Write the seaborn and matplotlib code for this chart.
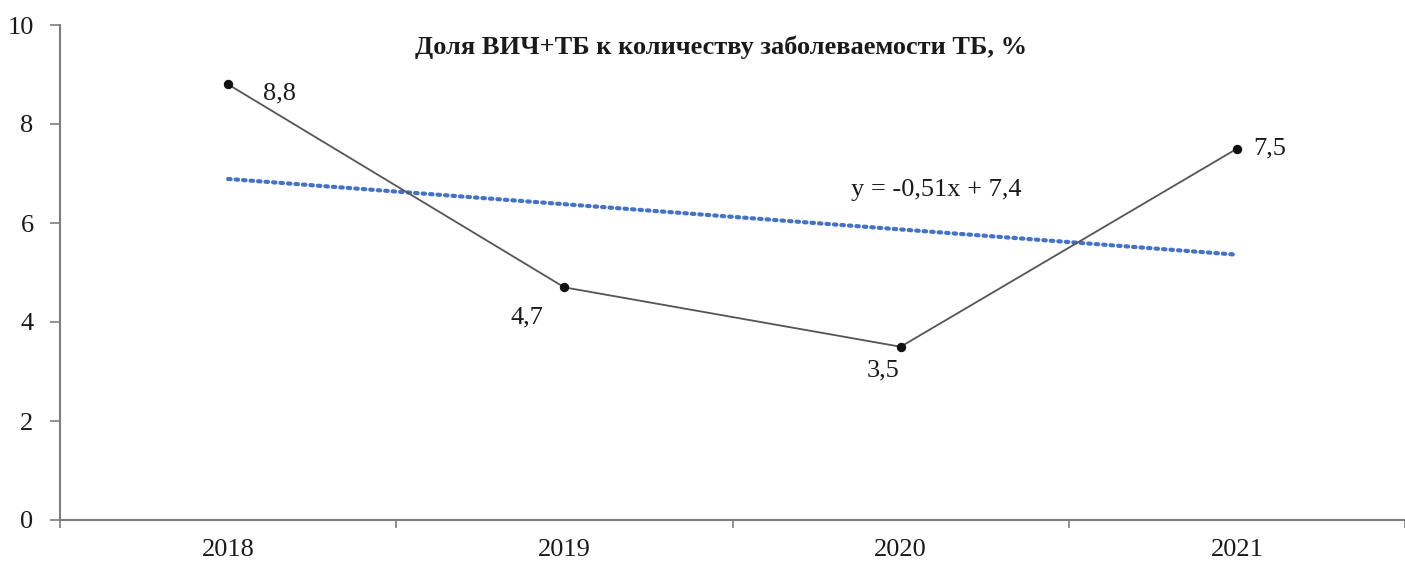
import numpy as np
import matplotlib
matplotlib.use('Agg')
import matplotlib.pyplot as plt
import seaborn as sns

# Data
years = ['2018', '2019', '2020', '2021']
share = [8.8, 4.7, 3.5, 7.5]
title = 'Доля ВИЧ+ТБ к количеству заболеваемости ТБ, %'

sns.set_style('white')
plt.rcParams['font.family'] = ['Liberation Serif', 'DejaVu Serif']

fig = plt.figure(figsize=(14.05, 5.63), dpi=100)
ax = fig.add_axes([60 / 1405, 43 / 563, 1345 / 1405, 495 / 563])

x = np.arange(len(years))

# Linear trend (Excel-like trendline)
sns.regplot(x=x, y=share, ax=ax, scatter=False, ci=None, truncate=True,
            line_kws=dict(color='#4472C4', lw=3, ls=(0, (0.6, 1.2)), dash_capstyle='round'))
slope, intercept = np.polyfit(x + 1, share, 1)

sns.lineplot(x=x, y=share, ax=ax, color='#555555', lw=1.3, marker='o',
             markersize=6, markerfacecolor='#111111', markeredgecolor='#111111')

# Data labels
offsets = [(25, -6.5), (-39, -22), (-24.5, -17), (11.5, 0)]
for xi, v, off in zip(x, share, offsets):
    ax.annotate(f'{v:.1f}'.replace('.', ','), (xi, v), xytext=off, textcoords='offset points',
                fontsize=19, ha='left', va='center', color='#1a1a1a')

eq = f'y = {slope:.2f}x + {intercept:.1f}'.replace('.', ',')
ax.text(1.853, 6.67, eq, fontsize=19, color='#1a1a1a', ha='left', va='center')

ax.text(1.465, 9.56, title, fontsize=19, fontweight='bold', ha='center', va='center',
        color='#1a1a1a')

ax.set_xlim(-0.5, 3.5)
ax.set_ylim(0, 10)
ax.set_yticks([0, 2, 4, 6, 8, 10])
ax.set_xticks(x)
ax.set_xticklabels(years)
ax.set_xticks([-0.5, 0.5, 1.5, 2.5, 3.5], minor=True)

for s in ['top', 'right']:
    ax.spines[s].set_visible(False)
for s in ['left', 'bottom']:
    ax.spines[s].set_color('#7f7f7f')
    ax.spines[s].set_linewidth(1.5)

ax.tick_params(axis='x', which='major', length=0, pad=14, labelsize=19, labelcolor='#1a1a1a')
ax.tick_params(axis='x', which='minor', bottom=True, length=6, width=1.2, color='#7f7f7f', direction='out')
ax.tick_params(axis='y', left=True, length=7, width=1.2, color='#7f7f7f', direction='out',
               pad=12, labelsize=19, labelcolor='#1a1a1a')

fig.savefig('out.png', dpi=100)
